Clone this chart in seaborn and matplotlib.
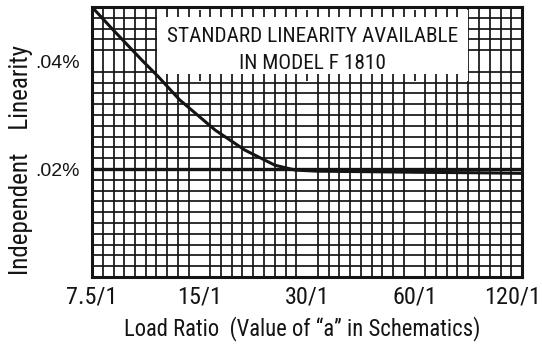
import numpy as np
import matplotlib
matplotlib.use("Agg")
import matplotlib.pyplot as plt
from matplotlib import font_manager
from matplotlib.ticker import FixedLocator, NullFormatter
from matplotlib.patches import Rectangle
from matplotlib.transforms import ScaledTranslation
import seaborn as sns

# Load ratio (a) and independent linearity (in percent units / 100)
ratios = [7.5, 8.5, 10.4, 11.5, 13.2, 16.6, 20.1, 24.4, 27.8, 32, 45, 60,
          90, 120]
linearity = [0.0500, 0.0461, 0.0400, 0.0371, 0.0328, 0.0272, 0.0235,
             0.0207, 0.0198, 0.0196, 0.0195, 0.0194, 0.0193, 0.0192]

x_ticks = [7.5, 15, 30, 60, 120]
x_tick_labels = ["7.5/1", "15/1", "30/1", "60/1", "120/1"]
y_ticks = [0.02, 0.04]
y_tick_labels = [".02%", ".04%"]

sns.set_theme(style="white")

# pick a narrow sans for the lettering
installed = {(f.name, f.stretch) for f in font_manager.fontManager.ttflist}
names = {n for n, _ in installed}
narrow = dict(family=["DejaVu Sans"], stretch="normal", scale=0.8)
for cand in ["Liberation Sans Narrow", "Roboto Condensed",
             "Open Sans Condensed", "Noto Sans Condensed"]:
    if cand in names:
        narrow = dict(family=[cand, "DejaVu Sans"], stretch="normal", scale=1.0)
        break
else:
    if any(n == "DejaVu Sans" and s in ("condensed", 300, "semi-condensed")
           for n, s in installed):
        narrow = dict(family=["DejaVu Sans"], stretch="condensed", scale=0.95)
plain = ["Liberation Sans", "DejaVu Sans"]
plt.rcParams["font.family"] = narrow["family"]


def nfont(size, weight="normal"):
    return dict(family=narrow["family"], fontstretch=narrow["stretch"],
                fontsize=size * narrow["scale"], fontweight=weight)


ink = "#141414"
fig = plt.figure(figsize=(5.42, 3.45), dpi=100)
fig.patch.set_facecolor("white")
ax = fig.add_axes([92 / 542, 1 - 277 / 345, 430 / 542, 270 / 345])
ax.set_facecolor("white")

ax.set_xscale("log", base=2)
ax.set_xlim(7.5, 120)
ax.set_ylim(0, 0.05)

# fine graph-paper grid: ten divisions per octave, 0.002% rows
x_minor = [7.5 * 2 ** (k / 10) for k in range(41)]
y_minor = [k * 0.002 for k in range(26)]
ax.xaxis.set_minor_locator(FixedLocator(x_minor))
ax.yaxis.set_minor_locator(FixedLocator(y_minor))
ax.xaxis.set_minor_formatter(NullFormatter())
ax.yaxis.set_minor_formatter(NullFormatter())
ax.set_xticks(x_ticks)
ax.set_xticklabels(x_tick_labels, **nfont(17.5))
ax.set_yticks(y_ticks)
ax.set_yticklabels(y_tick_labels, family=plain, fontsize=14)
ax.grid(which="minor", color=ink, linewidth=1.25)
ax.grid(which="major", visible=False)
ax.axhline(0.02, color=ink, linewidth=2.4, zorder=1.5)
ax.set_axisbelow(True)

ax.tick_params(which="both", length=0)
ax.tick_params(axis="x", pad=6, colors=ink)
ax.tick_params(axis="y", pad=8.5, colors=ink)

# nudge the last ratio label inward so it stays on the page
last = ax.get_xticklabels()[-1]
last.set_transform(last.get_transform()
                   + ScaledTranslation(-0.09, 0, fig.dpi_scale_trans))

for sp in ax.spines.values():
    sp.set_visible(True)
    sp.set_color(ink)
    sp.set_linewidth(2.2)

sns.lineplot(x=ratios, y=linearity, ax=ax, color=ink, linewidth=2.2,
             zorder=4)

# caption panel over the grid, with grid stubs poking in at the edges
bx0 = 7.5 * 2 ** (6.05 / 10)
bx1 = 7.5 * 2 ** (34.95 / 10)
by0, by1 = 0.0363, 0.0495
ax.add_patch(Rectangle((bx0, by0), bx1 - bx0, by1 - by0, facecolor="white",
                       edgecolor="none", zorder=2))
stub_x = [7.5 * 2 ** (k / 10) for k in range(7, 35)]
ax.vlines(stub_x, by1 - 0.0013, by1, color=ink, linewidth=1.25, zorder=3)
ax.vlines(stub_x, by0, by0 + 0.0013, color=ink, linewidth=1.25, zorder=3)
bxc = np.sqrt(bx0 * bx1)
ax.text(bxc, 0.0446, "STANDARD LINEARITY AVAILABLE", ha="center",
        va="center", color=ink, zorder=5, **nfont(15.3))
ax.text(bxc, 0.0396, "IN MODEL F 1810", ha="center", va="center",
        color=ink, zorder=5, **nfont(15.3))

fig.text(302 / 542, 1 - 329 / 345,
         "Load Ratio  (Value of \u201ca\u201d in Schematics)",
         ha="center", va="center", color=ink, **nfont(16.3))
fig.text(21 / 542, 1 - 160 / 345, "Independent    Linearity",
         ha="center", va="center", rotation=90, color=ink, **nfont(18))

fig.savefig("out.png", dpi=100, facecolor="white")
